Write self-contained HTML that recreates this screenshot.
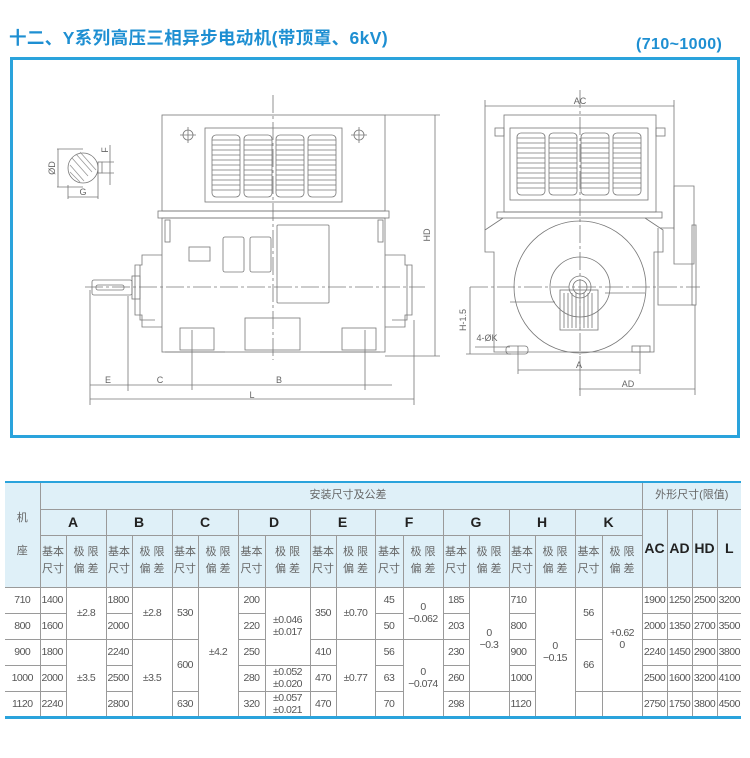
<!DOCTYPE html>
<html><head><meta charset="utf-8">
<style>
body{margin:0;width:750px;height:758px;background:#fff;position:relative;overflow:hidden;font-family:"Liberation Sans","Noto Sans CJK SC",sans-serif}
.title{position:absolute;left:9px;top:25px;font-size:17.5px;font-weight:bold;color:#1e8fd2;letter-spacing:0.4px}
.rng{position:absolute;left:636px;top:36px;font-size:16px;font-weight:bold;color:#1e8fd2;letter-spacing:0.4px}
svg{position:absolute;left:0;top:0}
table{position:absolute;left:5px;top:481px;border-collapse:collapse;table-layout:fixed;width:736px;font-family:"Liberation Sans","Noto Sans CJK SC",sans-serif;border-top:2px solid #2aa3dc;border-bottom:3px solid #2aa3dc}
td{border:1px solid #9a9a9a;text-align:center;color:#555;font-size:10.5px;letter-spacing:-0.5px;padding:0;line-height:12px;overflow:hidden;white-space:nowrap}
tr.h td{background:#dff0f8}
td.big{font-weight:bold;font-size:14px;color:#222;letter-spacing:0}
td.l{text-align:left;padding-left:1px}
.hs{font-size:11px;color:#666;line-height:17px;letter-spacing:0}
table tr td:first-child{border-left:none}
table tr td:last-child{border-right:none}
</style></head><body>
<div class="title">十二、Y系列高压三相异步电动机(带顶罩、6kV)</div>
<div class="rng">(710~1000)</div>
<svg width="750" height="470" viewBox="0 0 750 470">
<rect x="11.5" y="58.5" width="727" height="378" fill="none" stroke="#2aa3dc" stroke-width="3"/>
<g fill="none" stroke="#777" stroke-width="0.8">
<rect x="162" y="115" width="223" height="96"/>
<rect x="205" y="128" width="137" height="74"/>
<g id="lv">
<rect x="212" y="135" width="28" height="62" rx="4"/>
<path d="M212 140h28M212 145h28M212 150h28M212 155h28M212 160h28M212 165h28M212 170h28M212 175h28M212 180h28M212 185h28M212 190h28"/>
</g>
<use href="#lv" x="32"/><use href="#lv" x="64"/><use href="#lv" x="96"/>
<circle cx="188" cy="135" r="5"/><path d="M180 135h16M188 127v16"/>
<circle cx="359" cy="135" r="5"/><path d="M351 135h16M359 127v16"/>
<rect x="158" y="211" width="231" height="7"/>
<rect x="162" y="218" width="223" height="134"/>
<path d="M165 352h60M320 352h60"/>
<rect x="165" y="220" width="5" height="22"/><rect x="378" y="220" width="5" height="22"/>
<path d="M162 255h-20v10h-7v50h7v12h20M385 255h20v10h7v50h-7v12h-20"/>
<path d="M140 265v55h15M407 265v55h-15"/>
<rect x="92" y="280" width="40" height="15" rx="2"/><rect x="96" y="285" width="28" height="5" rx="2"/>
<rect x="132" y="276" width="8" height="23"/>
<rect x="189" y="247" width="21" height="14"/>
<rect x="223" y="237" width="21" height="35" rx="2"/><rect x="250" y="237" width="21" height="35" rx="2"/>
<rect x="277" y="225" width="52" height="78" rx="1"/>
<rect x="180" y="328" width="34" height="22"/><rect x="245" y="318" width="55" height="32"/><rect x="342" y="328" width="34" height="22"/>
<path d="M273 95v265" stroke-dasharray="18 3 3 3"/>
<path d="M85 287h340" stroke-dasharray="18 3 3 3"/>
<path d="M385 115h55M385 356h55M435 115v241"/>
<path d="M90 290v115M128 296v95M192 330v60M365 330v60M414 320v85"/>
<path d="M90 385h302M90 399h324"/>
<circle cx="83" cy="168" r="15"/>
<path d="M72 158l16 18M70 165l14 16M76 154l16 18M80 152l16 18M70 172l10 10" stroke="#999"/>
<rect x="98" y="162" width="4" height="11"/>
<path d="M57 149h26M57 187h26M58 149v38M68 185v14M98 170v29M68 197h30M110 145v40M102 162h12M102 173h12"/>
<rect x="504" y="115" width="152" height="97"/>
<rect x="510" y="128" width="138" height="72"/>
<use href="#lv" x="305" y="-2"/><use href="#lv" x="337" y="-2"/><use href="#lv" x="369" y="-2"/><use href="#lv" x="401" y="-2"/>
<rect x="497" y="212" width="165" height="6"/>
<path d="M503 218l-18 12v22h9v100h160v-100h9v-22l-18-12"/>
<rect x="495" y="128" width="9" height="8"/><rect x="656" y="128" width="9" height="8"/>
<circle cx="580" cy="287" r="66"/>
<circle cx="580" cy="287" r="30"/>
<circle cx="580" cy="287" r="11"/><circle cx="580" cy="287" r="7"/>
<rect x="560" y="290" width="38" height="40"/>
<path d="M564 293v35M568 293v35M572 293v35M576 293v35M580 293v35M584 293v35M588 293v35M592 293v35"/>
<path d="M510 302h45M605 293h40"/>
<path d="M660 228h14v-42h20v78h-20v-36z" />
<rect x="692" y="225" width="4" height="80"/>
<path d="M658 228v77h36"/>
<path d="M580 90v265" stroke-dasharray="18 3 3 3"/>
<path d="M470 287h230" stroke-dasharray="18 3 3 3"/>
<path d="M485 106h189M485 100v130M674 100v130"/>
<path d="M470 287v67M466 354h45"/>
<path d="M475 347h35"/>
<rect x="506" y="346" width="22" height="8" rx="3"/><rect x="632" y="346" width="18" height="6"/>
<path d="M518 346v28M640 346v28M518 370h122M580 356v40M695 305v90M579 389h116"/>
</g>
<g font-family="Liberation Sans,sans-serif" font-size="9" fill="#666" text-anchor="middle">
<text x="108" y="383">E</text><text x="160" y="383">C</text><text x="279" y="383">B</text><text x="252" y="398">L</text>
<text x="83" y="195">G</text>
<text x="430" y="235" transform="rotate(-90 430 235)">HD</text>
<text x="55" y="168" transform="rotate(-90 55 168)">ØD</text>
<text x="108" y="150" transform="rotate(-90 108 150)">F</text>
<text x="580" y="104">AC</text><text x="579" y="368">A</text><text x="628" y="387">AD</text>
<text x="487" y="341">4-ØK</text>
<text x="466" y="320" transform="rotate(-90 466 320)">H-1.5</text>
</g>
</svg>
<table>
<colgroup>
<col style="width:35px"><col style="width:26px"><col style="width:40px"><col style="width:26px"><col style="width:40px"><col style="width:26px"><col style="width:40px"><col style="width:27px"><col style="width:45px"><col style="width:26px"><col style="width:39px"><col style="width:28px"><col style="width:40px"><col style="width:26px"><col style="width:40px"><col style="width:26px"><col style="width:40px"><col style="width:27px"><col style="width:40px"><col style="width:25px"><col style="width:25px"><col style="width:25px"><col style="width:24px">
</colgroup>
<tr class="h" style="height:27px"><td rowspan="3" class="hs" style="line-height:33px">机<br>座</td><td colspan="18" class="hs" style="text-align:right;padding-right:255px">安装尺寸及公差</td><td colspan="4" class="hs">外形尺寸(限值)</td></tr>
<tr class="h" style="height:26px"><td colspan="2" class="big">A</td><td colspan="2" class="big">B</td><td colspan="2" class="big">C</td><td colspan="2" class="big">D</td><td colspan="2" class="big">E</td><td colspan="2" class="big">F</td><td colspan="2" class="big">G</td><td colspan="2" class="big">H</td><td colspan="2" class="big">K</td><td rowspan="2" class="big">AC</td><td rowspan="2" class="big">AD</td><td rowspan="2" class="big">HD</td><td rowspan="2" class="big">L</td></tr>
<tr class="h" style="height:52px">
<td class="hs">基本<br>尺寸</td><td class="hs">极 限<br>偏 差</td><td class="hs">基本<br>尺寸</td><td class="hs">极 限<br>偏 差</td><td class="hs">基本<br>尺寸</td><td class="hs">极 限<br>偏 差</td><td class="hs">基本<br>尺寸</td><td class="hs">极 限<br>偏 差</td><td class="hs">基本<br>尺寸</td><td class="hs">极 限<br>偏 差</td><td class="hs">基本<br>尺寸</td><td class="hs">极 限<br>偏 差</td><td class="hs">基本<br>尺寸</td><td class="hs">极 限<br>偏 差</td><td class="hs">基本<br>尺寸</td><td class="hs">极 限<br>偏 差</td><td class="hs">基本<br>尺寸</td><td class="hs">极 限<br>偏 差</td></tr>
<tr style="height:26px"><td>710</td><td class="l">1400</td><td rowspan="2">±2.8</td><td class="l">1800</td><td rowspan="2">±2.8</td><td rowspan="2">530</td><td rowspan="5">±4.2</td><td>200</td><td rowspan="3">±0.046<br>±0.017</td><td rowspan="2">350</td><td rowspan="2">±0.70</td><td>45</td><td rowspan="2">0<br>−0.062</td><td>185</td><td rowspan="4">0<br>−0.3</td><td class="l">710</td><td rowspan="5">0<br>−0.15</td><td rowspan="2">56</td><td rowspan="4">+0.62<br>0</td><td>1900</td><td>1250</td><td>2500</td><td>3200</td></tr>
<tr style="height:26px"><td>800</td><td class="l">1600</td><td class="l">2000</td><td>220</td><td>50</td><td>203</td><td class="l">800</td><td>2000</td><td>1350</td><td>2700</td><td>3500</td></tr>
<tr style="height:26px"><td>900</td><td class="l">1800</td><td rowspan="3">±3.5</td><td class="l">2240</td><td rowspan="3">±3.5</td><td rowspan="2">600</td><td>250</td><td>410</td><td rowspan="3">±0.77</td><td>56</td><td rowspan="3">0<br>−0.074</td><td>230</td><td class="l">900</td><td rowspan="2">66</td><td>2240</td><td>1450</td><td>2900</td><td>3800</td></tr>
<tr style="height:26px"><td>1000</td><td class="l">2000</td><td class="l">2500</td><td>280</td><td>±0.052<br>±0.020</td><td>470</td><td>63</td><td>260</td><td class="l">1000</td><td>2500</td><td>1600</td><td>3200</td><td>4100</td></tr>
<tr style="height:26px"><td>1120</td><td class="l">2240</td><td class="l">2800</td><td>630</td><td>320</td><td>±0.057<br>±0.021</td><td>470</td><td>70</td><td>298</td><td></td><td class="l">1120</td><td></td><td></td><td>2750</td><td>1750</td><td>3800</td><td>4500</td></tr>
</table>
</body></html>
